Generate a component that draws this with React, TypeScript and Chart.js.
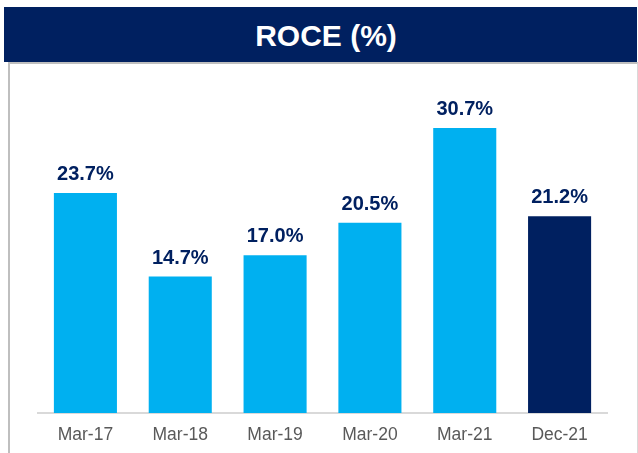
import React, { useEffect, useRef } from "react";
import { Chart, registerables } from "chart.js";

Chart.register(...registerables);

const categories = ["Mar-17", "Mar-18", "Mar-19", "Mar-20", "Mar-21", "Dec-21"];
const roceValues = [23.7, 14.7, 17.0, 20.5, 30.7, 21.2];
const barColors = ["#00B0F0", "#00B0F0", "#00B0F0", "#00B0F0", "#00B0F0", "#002060"];
const valueLabels = ["23.7%", "14.7%", "17.0%", "20.5%", "30.7%", "21.2%"];
const titleText = "ROCE (%)";

const FONT = "'Liberation Sans', Arial, Helvetica, sans-serif";

const valueLabelPlugin = {
  id: "valueLabels",
  afterDatasetsDraw(chart: any) {
    const ctx = chart.ctx;
    const meta = chart.getDatasetMeta(0);
    ctx.save();
    ctx.font = `bold 20px ${FONT}`;
    ctx.fillStyle = "#002060";
    ctx.textAlign = "center";
    ctx.textBaseline = "alphabetic";
    meta.data.forEach((bar: any, i: number) => {
      ctx.fillText(valueLabels[i], bar.x, bar.y - 13);
    });
    ctx.restore();
  },
};

export default function App() {
  const canvasRef = useRef<HTMLCanvasElement | null>(null);

  useEffect(() => {
    if (!canvasRef.current) return;
    const chart = new Chart(canvasRef.current, {
      type: "bar",
      data: {
        labels: categories,
        datasets: [
          {
            data: roceValues,
            backgroundColor: barColors,
            borderWidth: 0,
            categoryPercentage: 1,
            barPercentage: 0.665,
          },
        ],
      },
      options: {
        animation: false,
        responsive: false,
        maintainAspectRatio: false,
        layout: { padding: { left: 28, right: 30, top: 24, bottom: 0 } },
        plugins: {
          legend: { display: false },
          tooltip: { enabled: false },
          title: { display: false },
        },
        scales: {
          x: {
            grid: { display: false },
            border: { display: true, color: "#d9d9d9", width: 2 },
            ticks: {
              color: "#595959",
              font: { family: FONT, size: 17.5 },
              padding: 4,
              maxRotation: 0,
            },
          },
          y: {
            display: false,
            min: 0,
            max: 35,
          },
        },
      },
      plugins: [valueLabelPlugin],
    });
    return () => chart.destroy();
  }, []);

  return (
    <div style={{ position: "absolute", left: 0, top: 0, width: 638, height: 453, overflow: "hidden", background: "#fff" }}>
      <div
        style={{
          position: "absolute",
          left: 4,
          top: 7,
          width: 633,
          height: 55,
          background: "#002060",
          color: "#fff",
          fontFamily: FONT,
          fontWeight: "bold",
          fontSize: 30,
          display: "flex",
          alignItems: "center",
          justifyContent: "center",
          boxSizing: "border-box",
          paddingLeft: 11,
          paddingTop: 3,
        }}
      >
        {titleText}
      </div>
      <div
        style={{
          position: "absolute",
          left: 8,
          top: 62,
          width: 630,
          height: 391,
          overflow: "hidden",
          boxSizing: "border-box",
          borderLeft: "2px solid #bfbfbf",
          borderTop: "2px solid #bfbfbf",
          borderRight: "1px solid #d9d9d9",
        }}
      >
        <canvas ref={canvasRef} width={627} height={386} style={{ display: "block" }} />
      </div>
    </div>
  );
}
